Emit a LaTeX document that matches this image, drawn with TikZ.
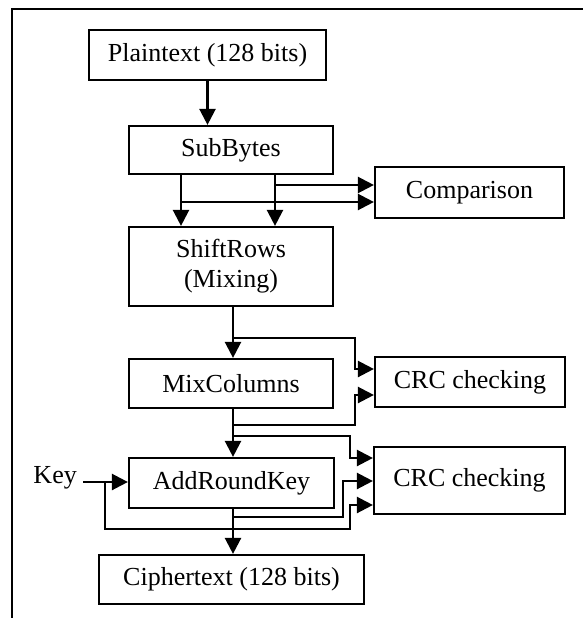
\documentclass[tikz,border=0pt]{standalone}
\usepackage{fontspec}
\setmainfont{Liberation Serif}
\usetikzlibrary{arrows.meta}
\begin{document}
\begin{tikzpicture}[x=1pt,y=-1pt,
  box/.style={draw, line width=2.2pt, rectangle, inner sep=0pt, font=\fontsize{26}{30}\selectfont, align=center},
  arr/.style={line width=2.4pt, -{Triangle[length=16pt,width=16pt]}},
  ln/.style={line width=2.4pt}]
\useasboundingbox (0,0) rectangle (583,618);
\draw[line width=2.2pt] (12,618) -- (12,9) -- (583,9);
% boxes (centre, size)
\node[box, minimum width=237pt, minimum height=50pt] (plain) at (207.5,55) {Plaintext (128 bits)};
\node[box, minimum width=204pt, minimum height=48pt] (sub) at (231,150) {SubBytes};
\node[box, minimum width=189pt, minimum height=51pt] (comp) at (469.5,192.5) {Comparison};
\node[box, minimum width=204pt, minimum height=79pt] (shift) at (231,266.5) {ShiftRows\\(Mixing)};
\node[box, minimum width=204pt, minimum height=49pt] (mix) at (231,383.5) {MixColumns};
\node[box, minimum width=190pt, minimum height=50pt] (crca) at (470,382) {CRC checking};
\node[box, minimum width=205pt, minimum height=50pt] (ark) at (231.5,483) {AddRoundKey};
\node[box, minimum width=191pt, minimum height=67pt] (crcb) at (469.5,480.5) {CRC checking};
\node[box, minimum width=265pt, minimum height=49pt] (ciph) at (231.5,579.5) {Ciphertext (128 bits)};
\node[anchor=base east, inner sep=0pt, font=\fontsize{26}{30}\selectfont] (key) at (77,483) {Key};
% helper coordinates
\coordinate (xa) at (181,0);
\coordinate (xb) at (275,0);
\coordinate (xm) at (233,0);
% Plaintext -> SubBytes
\draw[arr] (plain.south) -- (sub.north -| plain.south);
% SubBytes -> ShiftRows and Comparison
\draw[arr] (sub.south -| xa) -- (shift.north -| xa);
\draw[arr] (sub.south -| xb) -- (shift.north -| xb);
\draw[arr] (181,202) -- (comp.west |- 0,202);
\draw[arr] (275,185) -- (comp.west |- 0,185);
% ShiftRows -> MixColumns, CRC1
\draw[arr] (shift.south -| xm) -- (mix.north -| xm);
\draw[arr] (233,338) -- (355,338) -- (355,369) -- (crca.west |- 0,369);
% MixColumns -> AddRoundKey, CRC1, CRC2
\draw[arr] (mix.south -| xm) -- (ark.north -| xm);
\draw[arr] (233,425) -- (355,425) -- (355,395) -- (crca.west |- 0,395);
\draw[arr] (233,436) -- (350,436) -- (350,458) -- (crcb.west |- 0,458);
% Key -> AddRoundKey, CRC2
\draw[arr] (key.base east) ++(6,-1) -- (ark.west |- 0,482);
\draw[arr] (105,482) -- (105,529) -- (350,529) -- (350,505) -- (crcb.west |- 0,505);
% AddRoundKey -> Ciphertext, CRC2
\draw[arr] (ark.south -| xm) -- (ciph.north -| xm);
\draw[arr] (233,517) -- (343,517) -- (343,481) -- (crcb.west |- 0,481);
\end{tikzpicture}
\end{document}
